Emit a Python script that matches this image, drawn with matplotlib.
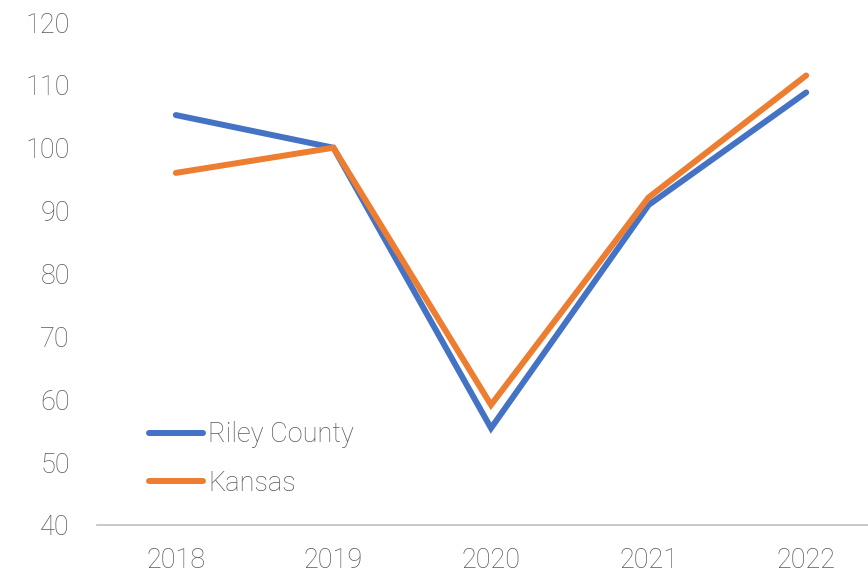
import matplotlib.pyplot as plt

plt.rcParams['font.family'] = ['Roboto', 'DejaVu Sans']
plt.rcParams['font.weight'] = 'light'

years = ["2018", "2019", "2020", "2021", "2022"]
riley = [105.2, 100.0, 55.4, 90.9, 108.8]
kansas = [96.0, 100.0, 59.1, 92.1, 111.5]

fig = plt.figure(figsize=(8.68, 5.73), dpi=100)
ax = fig.add_axes([0.1118, 0.0838, 0.9078, 0.8778])

x = range(len(years))
ax.plot(x, riley, color="#4472C4", lw=4.3, solid_capstyle="round", solid_joinstyle="miter", label="Riley County")
ax.plot(x, kansas, color="#ED7D31", lw=4.3, solid_capstyle="round", solid_joinstyle="miter", label="Kansas")

ax.set_xlim(-0.5, 4.5)
ax.set_ylim(40, 120)
ax.set_yticks(range(40, 121, 10))
ax.set_xticks(list(x))
ax.set_xticklabels(years)

for s in ["top", "right", "left"]:
    ax.spines[s].set_visible(False)
ax.spines["bottom"].set_color("#BFBFBF")
ax.spines["bottom"].set_linewidth(1.2)
ax.tick_params(axis="both", length=0, labelsize=19.5, labelcolor="#595959")
ax.tick_params(axis="y", pad=19.5)
ax.tick_params(axis="x", pad=16)

leg = ax.legend(loc="lower left", bbox_to_anchor=(0.052, 0.035), frameon=False,
                fontsize=19.5, handlelength=2.0, handletextpad=0.2, labelspacing=0.78,
                borderaxespad=0)
for t in leg.get_texts():
    t.set_color("#595959")

fig.savefig("out.png", dpi=100)
